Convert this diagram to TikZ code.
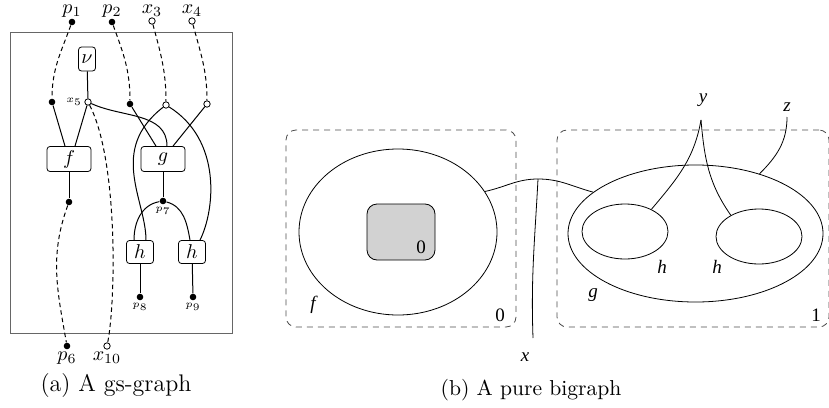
\documentclass[tikz,border=0pt]{standalone}
\usepackage{fontspec}
\newfontfamily\bgfont{Liberation Serif}
\usetikzlibrary{shapes.geometric}

\begin{document}
\begin{tikzpicture}[
    x=0.5pt, y=0.5pt,
    port/.style={circle, fill, inner sep=0pt, minimum size=3.3pt},
    hole/.style={circle, draw, fill=white, inner sep=0pt, minimum size=3.2pt},
    ctrl/.style={draw, rounded corners=1.5pt, inner sep=0pt,
                 minimum width=22pt, minimum height=12.5pt},
    hctrl/.style={ctrl, minimum width=13.5pt, minimum height=11.5pt},
    wire/.style={line width=0.5pt},
    bind/.style={line width=0.5pt, dash pattern=on 2.2pt off 1.6pt},
    tiny/.style={font=\tiny, inner sep=1pt},
    tag/.style={inner sep=0.8pt},
    toptag/.style={inner sep=0.2pt},
    root/.style={draw=black!70, dash pattern=on 3pt off 2.5pt, rounded corners=5pt},
    place/.style={draw, ellipse, inner sep=0pt},
    lbl/.style={font=\bgfont\fontsize{9.5}{11}\selectfont, inner sep=0pt},
]
\useasboundingbox (0,0) rectangle (829,-407);

% (a) gs-graph
\node[draw=black!60, minimum width=111pt, minimum height=150.5pt, inner sep=0pt] (frame) at (121,-182.5) {};

\node[port, label={[toptag]above:$p_1$}] (p1) at (72,-22) {};
\node[port, label={[toptag]above:$p_2$}] (p2) at (112,-22) {};
\node[hole, label={[toptag]above:$x_3$}] (x3) at (152,-21) {};
\node[hole, label={[toptag]above:$x_4$}] (x4) at (192,-21) {};

\node[ctrl, minimum width=8.5pt, minimum height=12pt] (nu) at (87,-59) {$\nu$};
\node[port] (p1i) at (52,-102) {};
\node[hole, label={[tiny]left:$x_5$}] (x5) at (88,-102) {};
\node[port] (p2i) at (130,-104) {};
\node[hole] (x3i) at (166,-105) {};
\node[hole] (x4i) at (207,-104) {};

\node[ctrl] (f) at (69,-159) {$f$};
\node[ctrl] (g) at (163,-159) {$g$};
\node[port] (p6i) at (69,-202) {};
\node[port, label={[tiny]below:$p_7$}] (p7) at (163,-201) {};
\node[hctrl] (h1) at (140,-252) {$h$};
\node[hctrl] (h2) at (192,-252) {$h$};
\node[port, label={[tiny]below:$p_8$}] (p8) at (140,-297) {};
\node[port, label={[tiny]below:$p_9$}] (p9) at (193,-297) {};
\node[port, label={[tag]below:$p_6$}] (p6) at (67,-346) {};
\node[hole, label={[tag]below:$x_{10}$}] (x10) at (107,-346) {};

\draw[bind] (p1) to[out=-110,in=90] (p1i);
\draw[bind] (p2) to[out=-70,in=90] (p2i);
\draw[bind] (x3) to[out=-75,in=90] (x3i);
\draw[bind] (x4) to[out=-75,in=90] (x4i);
\draw[wire] (nu) -- (x5);
\draw[wire] (p1i) -- ([xshift=-2pt]f.north);
\draw[wire] (x5) -- ([xshift=3pt]f.north);
\draw[wire] (x5) to[out=-25,in=90] ([xshift=2pt]g.north);
\draw[wire] (p2i) -- ([xshift=-3.5pt]g.north);
\draw[wire] (x4i) -- ([xshift=5pt]g.north);
\draw[wire] (x3i) .. controls (108,-150) and (146,-200) .. ([xshift=3pt]h1.north);
\draw[wire] (x3i) .. controls (222,-140) and (215,-210) .. ([xshift=4pt]h2.north);
\draw[wire] (g) -- (p7);
\draw[wire] (p7) to[out=190,in=90] ([xshift=-3pt]h1.north);
\draw[wire] (p7) to[out=-15,in=100] ([xshift=-1pt]h2.north);
\draw[wire] (h1) -- (p8);
\draw[wire] (h2) -- (p9);
\draw[wire] (f) -- (p6i);
\draw[bind] (p6i) to[out=-110,in=100] (p6);
\draw[bind] (x5) .. controls (118,-160) and (116,-300) .. (x10);

\node[font=\fontsize{12}{14}\selectfont] (capa) at (116,-386) {(a) A gs-graph};

% (b) pure bigraph
\node[root, minimum width=115pt, minimum height=98.5pt] (r0) at (401,-228.5) {};
\node[root, minimum width=136pt, minimum height=98.5pt] (r1) at (693,-228.5) {};
\node[place, minimum width=99pt, minimum height=83pt] (fn) at (398,-232) {};
\node[draw, fill=gray!35, rounded corners=5pt, minimum width=34pt, minimum height=28pt] (site) at (401,-232) {};
\node[place, minimum width=127.5pt, minimum height=68.5pt] (gn) at (695.5,-233.5) {};
\node[place, minimum width=43pt, minimum height=27.5pt] (h1n) at (625,-231.5) {};
\node[place, minimum width=43pt, minimum height=27.5pt] (h2n) at (759,-236.5) {};

\node[lbl] (s0) at (421,-247) {0};
\node[lbl] (n0) at (500,-315) {0};
\node[lbl] (n1) at (816,-315) {1};
\node[lbl] (fl) at (313,-305) {\itshape f};
\node[lbl] (gl) at (593,-295) {\itshape g};
\node[lbl] (hl1) at (662,-267) {\itshape h};
\node[lbl] (hl2) at (717,-267) {\itshape h};

\coordinate (xj) at (538,-179);
\coordinate (xe) at (533,-338);
\coordinate (yj) at (701,-120);
\coordinate (ze) at (787,-117);
\draw (fn.25) to[out=12,in=180] (xj) to[out=0,in=165] (gn.158);
\draw (xj) to[out=-93,in=92] (xe);
\draw (yj) to[out=-100,in=50] (h1n.40);
\draw (yj) to[out=-85,in=125] (h2n.143);
\draw (ze) to[out=-90,in=45] (gn.43);
\node[lbl] (xl) at (525,-357) {\itshape x};
\node[lbl] (yl) at (703,-100) {\itshape y};
\node[lbl] (zl) at (787,-107) {\itshape z};

\node[font=\fontsize{10.8}{13}\selectfont] (capb) at (531,-390) {(b) A pure bigraph};
\end{tikzpicture}
\end{document}
